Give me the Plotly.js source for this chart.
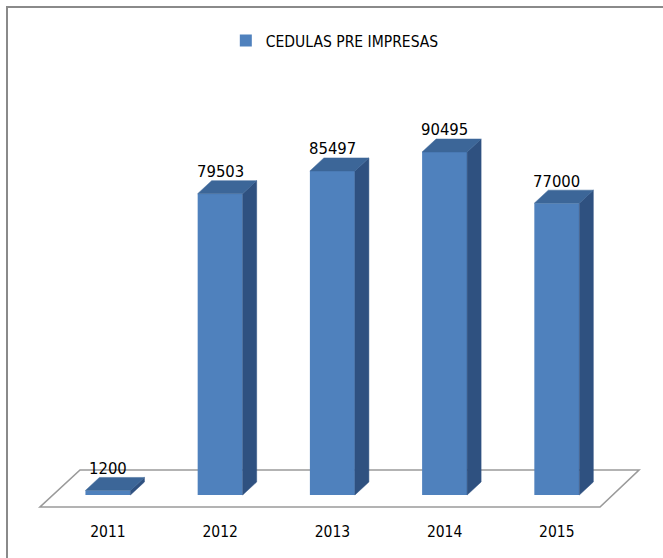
<!DOCTYPE html>
<html>
<head>
<meta charset="utf-8">
<script src="https://cdn.plot.ly/plotly-3.0.1.min.js"></script>
<style>
  html, body { margin: 0; padding: 0; background: #ffffff; }
  #chart { width: 663px; height: 558px; }
</style>
</head>
<body>
<div id="chart"></div>
<script>
// ---- data ----
const years = ['2011', '2012', '2013', '2014', '2015'];
const values = [1200, 79503, 85497, 90495, 77000];
const seriesName = 'CEDULAS PRE IMPRESAS';

// ---- layout constants ----
const W = 663, H = 558;
const M = { l: 35, r: 22, t: 60, b: 38 };
const xRange = [-0.65, 4.75];
const yRange = [-6596, 114766];
const plotW = W - M.l - M.r, plotH = H - M.t - M.b;
const pxPerX = plotW / (xRange[1] - xRange[0]);
const pxPerY = plotH / (yRange[1] - yRange[0]);
const px2x = px => xRange[0] + (px - M.l) / pxPerX;
const py2y = py => yRange[1] - (py - M.t) / pxPerY;
const px2paper = px => (px - M.l) / plotW;
const py2paper = py => 1 - (py - M.t) / plotH;

const barW = 45 / pxPerX;     // front face width
const dX = 14 / pxPerX;       // depth offset (x)
const dY = 13 / pxPerY;       // depth offset (y)

const FONT = '"Liberation Sans Narrow", "Arial Narrow", "DejaVu Sans Condensed", sans-serif';
const FRONT = '#4F81BD', TOP = '#3C6698', SIDE = '#2F5180';

const xs = years.map((_, i) => i);

// top faces and side faces (built from the values)
const topX = [], topY = [], sideX = [], sideY = [];
xs.forEach((x, i) => {
  const v = values[i];
  const l = x - barW / 2, r = x + barW / 2;
  topX.push(l, l + dX, r + dX, r, l, null);
  topY.push(v, v + dY, v + dY, v, v, null);
  sideX.push(r, r, r + dX, r + dX, r, null);
  sideY.push(0, v, v + dY, dY, 0, null);
});

const traces = [
  {
    type: 'bar', x: xs, y: values, width: barW, name: seriesName,
    marker: { color: FRONT, line: { width: 0 } }, showlegend: true, hoverinfo: 'skip'
  },
  {
    type: 'scatter', mode: 'lines', x: sideX, y: sideY, fill: 'toself',
    fillcolor: SIDE, line: { color: SIDE, width: 0.5 }, showlegend: false, hoverinfo: 'skip'
  },
  {
    type: 'scatter', mode: 'lines', x: topX, y: topY, fill: 'toself',
    fillcolor: TOP, line: { color: TOP, width: 0.5 }, showlegend: false, hoverinfo: 'skip'
  }
];

const annotations = xs.map((x, i) => ({
  x: x, y: values[i], xref: 'x', yref: 'y', text: String(values[i]),
  showarrow: false, yanchor: 'middle', yshift: 22,
  font: { family: FONT, size: 16.5, color: '#000000' }
}));

// floor plane (decorative) and outer frame
const floorPath = 'M ' + px2x(40) + ' ' + py2y(507) +
  ' L ' + px2x(600) + ' ' + py2y(507) +
  ' L ' + px2x(639) + ' ' + py2y(470) +
  ' L ' + px2x(80) + ' ' + py2y(470) + ' Z';
const framePath = 'M ' + px2paper(7) + ' ' + py2paper(560) +
  ' L ' + px2paper(7) + ' ' + py2paper(7) +
  ' L ' + px2paper(665) + ' ' + py2paper(7);

const layout = {
  width: W, height: H,
  margin: M,
  paper_bgcolor: '#ffffff', plot_bgcolor: 'rgba(0,0,0,0)',
  showlegend: true,
  legend: {
    orientation: 'h', xref: 'container', yref: 'container',
    x: 0.505, xanchor: 'center', y: 1 - 41 / H, yanchor: 'middle',
    font: { family: FONT, size: 15.5, color: '#000000' },
    bgcolor: 'rgba(0,0,0,0)'
  },
  xaxis: {
    range: xRange, tickvals: xs, ticktext: years, showgrid: false,
    zeroline: false, showline: false, ticks: '',
    tickfont: { family: FONT, size: 15.5, color: '#000000' }, fixedrange: true
  },
  yaxis: { range: yRange, visible: false, fixedrange: true },
  shapes: [
    { type: 'path', xref: 'x', yref: 'y', path: floorPath, layer: 'below',
      fillcolor: '#ffffff', line: { color: '#9A9A9A', width: 1.6 } },
    { type: 'path', xref: 'paper', yref: 'paper', path: framePath, layer: 'above',
      line: { color: '#8A8A8A', width: 2 } }
  ],
  annotations: annotations
};

Plotly.newPlot('chart', traces, layout, { displayModeBar: false, staticPlot: true });
</script>
</body>
</html>
